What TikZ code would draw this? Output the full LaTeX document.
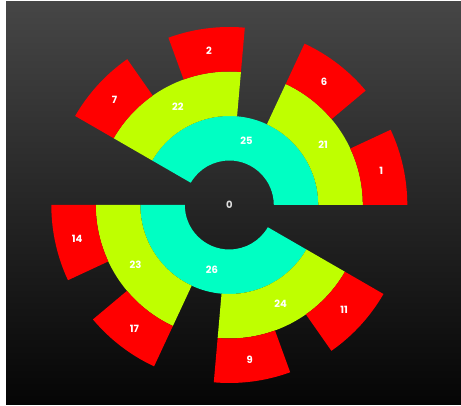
\documentclass[tikz,border=0pt]{standalone}
\usepackage{fontspec}
\setmainfont{Poppins}
\definecolor{ring1}{HTML}{00FFC3}
\definecolor{ring2}{HTML}{BFFF00}
\definecolor{ring3}{HTML}{FF0000}
\definecolor{bgtop}{HTML}{464646}
\definecolor{bgbot}{HTML}{050505}
\newcommand{\annsec}[5]{%
  \fill[#5] ([shift={(#1:#3)}]ctr) arc[start angle=#1, end angle=#2, radius=#3]
    -- ([shift={(#2:#4)}]ctr) arc[start angle=#2, end angle=#1, radius=#4] -- cycle;}
\tikzset{lab/.style={text=white, font=\fontsize{10}{10}\selectfont\bfseries, inner sep=0pt}}
\begin{document}
\begin{tikzpicture}[x=1pt,y=1pt]
\useasboundingbox (0,0) rectangle (461,406);
\fill[white] (0,0) rectangle (461,406);
\shade[top color=bgtop, bottom color=bgbot] (6,1) rectangle (461,404);
\coordinate (ctr) at (229.3,201);
\def\ra{44.5}\def\rb{89}\def\rc{133.5}\def\rd{178}
% inner ring
\annsec{0}{150}{\ra}{\rb}{ring1}
\annsec{180}{330}{\ra}{\rb}{ring1}
% middle ring
\annsec{0}{65}{\rb}{\rc}{ring2}
\annsec{85}{150}{\rb}{\rc}{ring2}
\annsec{180}{245}{\rb}{\rc}{ring2}
\annsec{265}{330}{\rb}{\rc}{ring2}
% outer ring
\annsec{0}{25}{\rc}{\rd}{ring3}
\annsec{40}{65}{\rc}{\rd}{ring3}
\annsec{85}{110}{\rc}{\rd}{ring3}
\annsec{125}{150}{\rc}{\rd}{ring3}
\annsec{180}{205}{\rc}{\rd}{ring3}
\annsec{220}{245}{\rc}{\rd}{ring3}
\annsec{265}{290}{\rc}{\rd}{ring3}
\annsec{305}{330}{\rc}{\rd}{ring3}
% labels
\node[lab, text=black!13] (l0) at (ctr) {0};
\node[lab] (l25) at ([shift={(75:66.75)}]ctr) {25};
\node[lab] (l26) at ([shift={(255:66.75)}]ctr) {26};
\node[lab] (l21) at ([shift={(32.5:111.25)}]ctr) {21};
\node[lab] (l22) at ([shift={(117.5:111.25)}]ctr) {22};
\node[lab] (l23) at ([shift={(212.5:111.25)}]ctr) {23};
\node[lab] (l24) at ([shift={(297.5:111.25)}]ctr) {24};
\node[lab] (l1) at ([shift={(12.5:155.75)}]ctr) {1};
\node[lab] (l6) at ([shift={(52.5:155.75)}]ctr) {6};
\node[lab] (l2) at ([shift={(97.5:155.75)}]ctr) {2};
\node[lab] (l7) at ([shift={(137.5:155.75)}]ctr) {7};
\node[lab] (l14) at ([shift={(192.5:155.75)}]ctr) {14};
\node[lab] (l17) at ([shift={(232.5:155.75)}]ctr) {17};
\node[lab] (l9) at ([shift={(277.5:155.75)}]ctr) {9};
\node[lab] (l11) at ([shift={(317.5:155.75)}]ctr) {11};
\end{tikzpicture}
\end{document}
